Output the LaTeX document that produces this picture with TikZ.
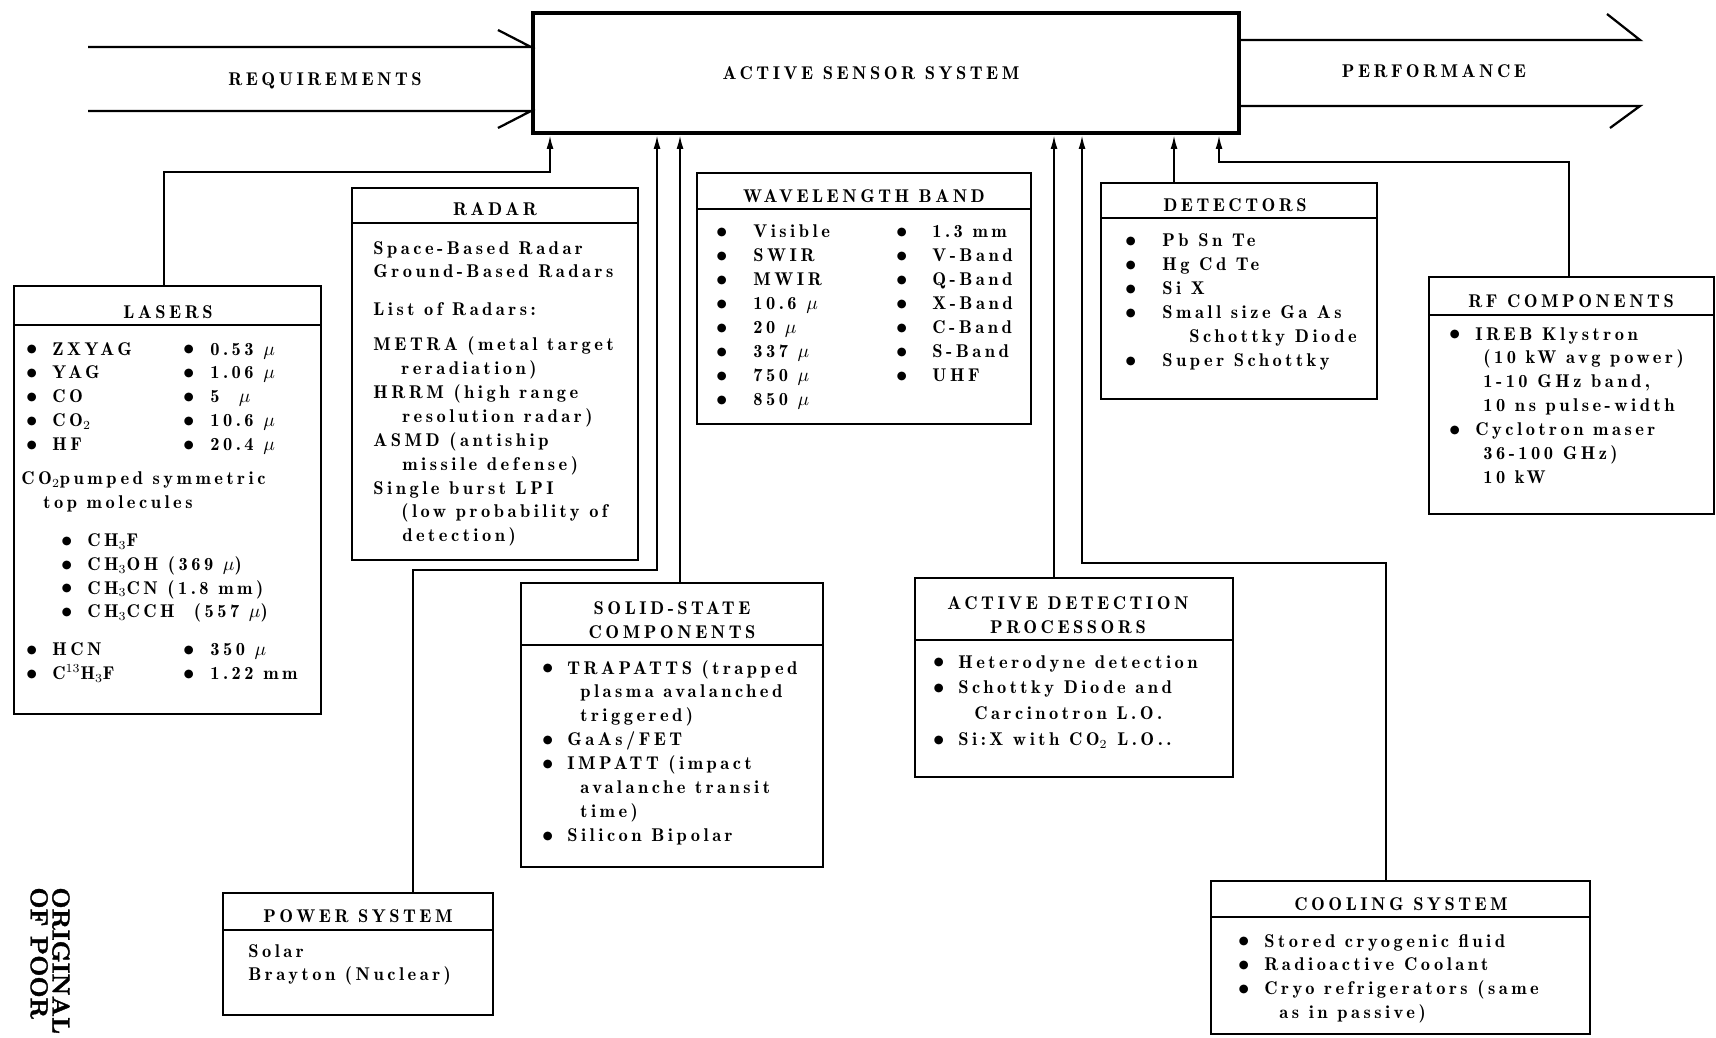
\documentclass[tikz,border=0pt]{standalone}
\usepackage{fontspec}
\setmainfont{lmromandemi10}[Extension=.otf, UprightFont=*-regular, BoldFont=lmroman10-bold,
  LetterSpace=19]
\newfontfamily\stampfont{lmroman10}[Extension=.otf, UprightFont=*-bold, FakeBold=1.5]
\usepackage{tikz}
\usetikzlibrary{arrows.meta, positioning, fit}
\newcommand{\tb}{\raisebox{-0.5pt}{\scalebox{1.45}{\textbullet}}}
\newcommand{\mic}{$\mu$}

\begin{document}
\begin{tikzpicture}[x=0.2mm, y=-0.2mm,
    every node/.style={font=\fontsize{10.5}{13.6}\selectfont},
    sysbox/.style={draw, line width=0.8mm, minimum width=141.2mm, minimum height=24mm},
    frame/.style={draw, line width=0.4mm, inner sep=0pt},
    sepline/.style={line width=0.4mm},
    ttl/.style={anchor=base, inner sep=0pt},
    lst/.style={anchor=base west, inner sep=0pt},
    wide/.style={line width=0.45mm},
    sl/.style={-{Latex[length=2.8mm, width=1.4mm]}, line width=0.4mm},
    stamp/.style={font=\stampfont\fontsize{14}{12.4}\selectfont, align=left, inner sep=0pt}
]
    \useasboundingbox (0,0) rectangle (1716,1038);

    % system in the middle, requirements in, performance out
    \node[sysbox] (main) at (886,73) {\hspace*{-6mm}ACTIVE SENSOR SYSTEM};
    \coordinate (reqT) at (88,47);
    \coordinate (reqB) at (88,111);
    \coordinate (perfT) at (1640,40);
    \coordinate (perfB) at (1640,106);
    \draw[wide] (reqT) -- (reqT -| main.west) -- ++(-33,-17);
    \draw[wide] (reqB) -- (reqB -| main.west) -- ++(-33,17);
    \draw[wide] (main.east |- perfT) -- (perfT) -- ++(-33,-26);
    \draw[wide] (main.east |- perfB) -- (perfB) -- ++(-30,22);
    \node[ttl] (reqL) at (325,86) {REQUIREMENTS};
    \node[ttl] (perfL) at (1434,78) {PERFORMANCE};

    % lasers
    \node[frame, fit={(14,286) (321,714)}] (lasers) {};
    \draw[sepline] (lasers.west |- 0,325) -- (lasers.east |- 0,325);
    \node[ttl] (lasersT) at (168,318) {LASERS};
    \node[lst] (lasersL) at (21,355) {\begin{tabular}[t]{@{}p{6.2mm}@{}p{25.2mm}@{}p{6.4mm}@{}l@{}}
        \tb & ZXYAG & \tb & 0.53 \mic\\
        \tb & YAG & \tb & 1.06 \mic\\
        \tb & CO & \tb & 5\ \ \mic\\
        \tb & CO$_2$ & \tb & 10.6 \mic\\
        \tb & HF & \tb & 20.4 \mic\\[2mm]
        \multicolumn{4}{@{}l@{}}{CO$_2$pumped symmetric}\\
        \multicolumn{4}{@{}l@{}}{\hspace{4.4mm}top molecules}\\[2.8mm]
        \multicolumn{4}{@{}l@{}}{\hspace{7mm}\makebox[6.2mm][l]{\tb}CH$_3$F}\\
        \multicolumn{4}{@{}l@{}}{\hspace{7mm}\makebox[6.2mm][l]{\tb}CH$_3$OH (369 \mic)}\\
        \multicolumn{4}{@{}l@{}}{\hspace{7mm}\makebox[6.2mm][l]{\tb}CH$_3$CN (1.8 mm)}\\
        \multicolumn{4}{@{}l@{}}{\hspace{7mm}\makebox[6.2mm][l]{\tb}CH$_3$CCH\ \ (557 \mic)}\\[2.8mm]
        \tb & HCN & \tb & 350 \mic\\
        \tb & C$^{13}$H$_3$F & \tb & 1.22 mm
    \end{tabular}};

    % radar
    \node[frame, fit={(352,188) (638,560)}] (radar) {};
    \draw[sepline] (radar.west |- 0,223) -- (radar.east |- 0,223);
    \node[ttl] (radarT) at (495,216) {RADAR};
    \node[lst] (radarL) at (373,254) {\begin{tabular}[t]{@{}l@{}}
        Space-Based Radar\\
        Ground-Based Radars\\[2.7mm]
        List of Radars:\\[2.3mm]
        METRA (metal target\\
        \hspace{5.6mm}reradiation)\\
        HRRM (high range\\
        \hspace{5.8mm}resolution radar)\\
        ASMD (antiship\\
        \hspace{5.8mm}missile defense)\\
        Single burst LPI\\
        \hspace{5.6mm}(low probability of\\
        \hspace{5.8mm}detection)
    \end{tabular}};

    % wavelength band
    \node[frame, fit={(697,173) (1031,424)}] (wave) {};
    \draw[sepline] (wave.west |- 0,209) -- (wave.east |- 0,209);
    \node[ttl] (waveT) at (864,203) {WAVELENGTH BAND};
    \node[lst] (waveL) at (711,238) {\begin{tabular}[t]{@{}p{8.4mm}@{}p{27.6mm}@{}p{8.2mm}@{}l@{}}
        \tb & Visible & \tb & 1.3 mm\\
        \tb & SWIR & \tb & V-Band\\
        \tb & MWIR & \tb & Q-Band\\
        \tb & 10.6 \mic & \tb & X-Band\\
        \tb & 20 \mic & \tb & C-Band\\
        \tb & 337 \mic & \tb & S-Band\\
        \tb & 750 \mic & \tb & UHF\\
        \tb & 850 \mic & &
    \end{tabular}};

    % detectors
    \node[frame, fit={(1101,183) (1377,399)}] (det) {};
    \draw[sepline] (det.west |- 0,218) -- (det.east |- 0,218);
    \node[ttl] (detT) at (1235,212) {DETECTORS};
    \node[lst] (detL) at (1120,247) {\begin{tabular}[t]{@{}p{8.4mm}@{}l@{}}
        \tb & Pb Sn Te\\
        \tb & Hg Cd Te\\
        \tb & Si X\\
        \tb & Small size Ga As\\
         & \hspace{5.4mm}Schottky Diode\\
        \tb & Super Schottky
    \end{tabular}};

    % rf components
    \node[frame, fit={(1429,277) (1714,514)}] (rf) {};
    \draw[sepline] (rf.west |- 0,315) -- (rf.east |- 0,315);
    \node[ttl] (rfT) at (1571,307) {RF COMPONENTS};
    \node[lst] (rfL) at (1444,340) {\begin{tabular}[t]{@{}p{6.2mm}@{}l@{}}
        \tb & IREB Klystron\\
         & \hspace{1.6mm}(10 kW avg power)\\
         & \hspace{1.6mm}1-10 GHz band,\\
         & \hspace{1.6mm}10 ns pulse-width\\
        \tb & Cyclotron maser\\
         & \hspace{1.6mm}36-100 GHz)\\
         & \hspace{1.6mm}10 kW
    \end{tabular}};

    % solid-state components
    \node[frame, fit={(521,583) (823,867)}] (solid) {};
    \draw[sepline] (solid.west |- 0,645) -- (solid.east |- 0,645);
    \node[ttl] (solidT) at (672,638) {\begin{tabular}[b]{@{}c@{}}SOLID-STATE\\COMPONENTS\end{tabular}};
    \node[lst] (solidL) at (537,674) {\begin{tabular}[t]{@{}p{6mm}@{}l@{}}
        \tb & TRAPATTS (trapped\\
         & \hspace{2.6mm}plasma avalanched\\
         & \hspace{2.6mm}triggered)\\
        \tb & GaAs/FET\\
        \tb & IMPATT (impact\\
         & \hspace{2.6mm}avalanche transit\\
         & \hspace{2.6mm}time)\\
        \tb & Silicon Bipolar
    \end{tabular}};

    % active detection processors
    \node[frame, fit={(915,578) (1233,777)}] (active) {};
    \draw[sepline] (active.west |- 0,640) -- (active.east |- 0,640);
    \node[ttl] (activeT) at (1068,633) {\begin{tabular}[b]{@{}c@{}}ACTIVE DETECTION\\PROCESSORS\end{tabular}};
    \node[lst] (activeL) at (928,668) {\begin{tabular}[t]{@{}p{6mm}@{}l@{}}
        \tb & Heterodyne detection\\[0.4mm]
        \tb & Schottky Diode and\\[0.4mm]
         & \hspace{3.2mm}Carcinotron L.O.\\[0.4mm]
        \tb & Si:X with CO$_2$ L.O..
    \end{tabular}};

    % power system
    \node[frame, fit={(223,893) (493,1015)}] (power) {};
    \draw[sepline] (power.west |- 0,930) -- (power.east |- 0,930);
    \node[ttl] (powerT) at (358,922) {POWER SYSTEM};
    \node[lst] (powerL) at (248,957) {\begin{tabular}[t]{@{}l@{}}
        Solar\\
        Brayton (Nuclear)
    \end{tabular}};

    % cooling system
    \node[frame, fit={(1211,881) (1590,1034)}] (cool) {};
    \draw[sepline] (cool.west |- 0,917) -- (cool.east |- 0,917);
    \node[ttl] (coolT) at (1401,910) {COOLING SYSTEM};
    \node[lst] (coolL) at (1233,947) {\begin{tabular}[t]{@{}p{6.2mm}@{}l@{}}
        \tb & Stored cryogenic fluid\\
        \tb & Radioactive Coolant\\
        \tb & Cryo refrigerators (same\\
         & \hspace{3mm}as in passive)
    \end{tabular}};

    % feeds into the system box
    \draw[sl] (lasers.north -| 164,0) |- (550,172) -- (550,172 |- main.south);
    \draw[sl] (power.north -| 413,0) |- (657,570) -- (657,570 |- main.south);
    \draw[sl] (solid.north -| 680,0) -- (680,0 |- main.south);
    \draw[sl] (active.north -| 1054,0) -- (1054,0 |- main.south);
    \draw[sl] (cool.north -| 1386,0) |- (1082,563) -- (1082,563 |- main.south);
    \draw[sl] (det.north -| 1174,0) -- (1174,0 |- main.south);
    \draw[sl] (rf.north -| 1569,0) |- (1219,162) -- (1219,162 |- main.south);

    \node[stamp, rotate=-90, anchor=north west] (stamp) at (70,887) {ORIGINAL\\OF POOR};
\end{tikzpicture}
\end{document}
